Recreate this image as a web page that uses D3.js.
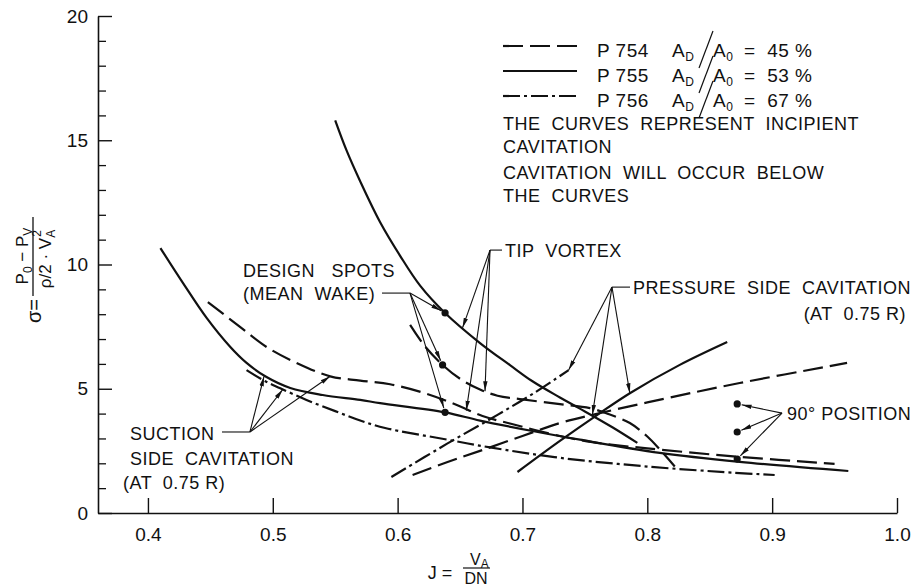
<!DOCTYPE html>
<html>
<head>
<meta charset="utf-8">
<script src="https://cdn.jsdelivr.net/npm/d3@7"></script>
<style>
  body { margin: 0; background: #fff; }
  svg text { font-family: "Liberation Sans", Arial, sans-serif; fill: #111; white-space: pre; }
</style>
</head>
<body>
<svg id="chart" width="913" height="587"></svg>
<script>
// ---- axis ticks ----
const jTicks = [0.4, 0.5, 0.6, 0.7, 0.8, 0.9, 1.0];
const jTickLabels = ["0.4", "0.5", "0.6", "0.7", "0.8", "0.9", "1.0"];
const sigmaMajor = [0, 5, 10, 15, 20];
const sigmaMajorLabels = ["0", "5", "10", "15", "20"];
const sigmaMinor = [1, 2, 3, 4, 6, 7, 8, 9, 11, 12, 13, 14, 16, 17, 18, 19];

// ---- propellers ----
const propellers = ["P 754", "P 755", "P 756"];
const areaRatios = ["45 %", "53 %", "67 %"];

// ---- incipient cavitation curves, [J, sigma] ----
// suction side cavitation (at 0.75 R)
const suction754 = [[0.448,8.49],[0.474,7.48],[0.495,6.68],[0.519,6.04],[0.546,5.5],[0.57,5.33],[0.594,5.18],[0.62,4.85],[0.645,4.4],[0.668,3.9],[0.69,3.6],[0.73,3.1],[0.756,2.85],[0.8,2.6],[0.874,2.26],[0.95,1.98]];
const suction755 = [[0.41,10.66],[0.428,9.26],[0.447,7.85],[0.466,6.68],[0.479,6.04],[0.495,5.47],[0.514,5.03],[0.54,4.75],[0.57,4.55],[0.586,4.42],[0.638,4.05],[0.666,3.72],[0.708,3.3],[0.746,2.95],[0.81,2.42],[0.874,2.06],[0.961,1.69]];
const suction756 = [[0.479,5.75],[0.494,5.3],[0.506,5.02],[0.527,4.55],[0.55,4.1],[0.57,3.72],[0.59,3.42],[0.64,2.95],[0.674,2.64],[0.73,2.22],[0.8,1.87],[0.87,1.62],[0.902,1.53]];
// tip vortex
const tip755 = [[0.55,15.8],[0.559,14.6],[0.57,13.35],[0.586,11.7],[0.602,10.35],[0.618,9.15],[0.638,8.05],[0.666,6.84],[0.69,5.95],[0.708,5.3],[0.73,4.65],[0.746,4.2],[0.772,3.45],[0.792,2.82]];
const tip754 = [[0.61,7.57],[0.622,6.7],[0.636,5.96],[0.65,5.4],[0.666,4.97],[0.68,4.72],[0.7,4.57],[0.73,4.38],[0.754,4.22],[0.77,3.96],[0.786,3.62],[0.8,3.08],[0.81,2.56],[0.822,1.87]];
// pressure side cavitation (at 0.75 R)
const pressure754 = [[0.612,1.53],[0.64,2.05],[0.666,2.5],[0.7,3.1],[0.73,3.62],[0.756,3.95],[0.8,4.45],[0.874,5.23],[0.96,6.04]];
const pressure755 = [[0.696,1.65],[0.73,2.9],[0.76,3.95],[0.786,4.82],[0.826,5.96],[0.864,6.88]];
const pressure756 = [[0.595,1.45],[0.64,2.8],[0.68,3.95],[0.71,4.85],[0.737,5.75]];

// operating points
const designSpots = [[0.638,8.05],[0.636,5.96],[0.638,4.05]];
const position90 = [[0.872,4.39],[0.872,3.26],[0.872,2.17]];

// callouts: leader origin and targets, [J, sigma]
const suctionCallout  = { from: [0.4817,3.26], to: [[0.493,5.5],[0.508,4.97],[0.546,5.5]] };
const designCallout   = { from: [0.6099,8.85], to: designSpots };
const tipCallout      = { from: [0.674,10.58], to: [[0.652,7.45],[0.67,4.9],[0.655,4.12]] };
const pressureCallout = { from: [0.7717,9.09], to: [[0.737,5.75],[0.756,3.95],[0.786,4.82]] };
const posCallout      = { from: [0.9079,4.02], to: position90 };

// ---- drawing ----
const svg = d3.select("#chart");
const x = d3.scaleLinear().domain([0.36, 1.0]).range([98, 897]);
const y = d3.scaleLinear().domain([0, 20]).range([513, 16]);
const ink = "#111";

const dashFor = { "P 754": "20,7", "P 755": null, "P 756": "17,4,3,4" };

const defs = svg.append("defs");
defs.append("marker")
  .attr("id", "arrow")
  .attr("viewBox", "0 -3 10 6")
  .attr("refX", 10).attr("refY", 0)
  .attr("markerWidth", 10).attr("markerHeight", 6)
  .attr("markerUnits", "userSpaceOnUse")
  .attr("orient", "auto")
  .append("path").attr("d", "M0,-2.2L10,0L0,2.2Z").attr("fill", ink);

// y axis: inward ticks
const yAxisMajor = d3.axisLeft(y)
  .tickValues(sigmaMajor)
  .tickFormat((d, i) => sigmaMajorLabels[i])
  .tickSizeInner(-14).tickSizeOuter(0).tickPadding(10);
const gy = svg.append("g").attr("transform", "translate(98,0)").call(yAxisMajor);
gy.select(".domain").attr("stroke", ink).attr("stroke-width", 1.6);
gy.selectAll(".tick line").attr("stroke", ink).attr("stroke-width", 1.4);
gy.selectAll(".tick text").attr("font-size", 19).attr("font-family", "Liberation Sans, Arial, sans-serif").attr("fill", ink);

const yAxisMinor = d3.axisLeft(y).tickValues(sigmaMinor).tickFormat("").tickSizeInner(-8).tickSizeOuter(0);
const gym = svg.append("g").attr("transform", "translate(98,0)").call(yAxisMinor);
gym.select(".domain").remove();
gym.selectAll(".tick line").attr("stroke", ink).attr("stroke-width", 1.3);

// x axis: inward ticks
const xAxis = d3.axisBottom(x)
  .tickValues(jTicks)
  .tickFormat((d, i) => jTickLabels[i])
  .tickSizeInner(-15).tickSizeOuter(0).tickPadding(15);
const gx = svg.append("g").attr("transform", "translate(0,513)").call(xAxis);
gx.select(".domain").attr("stroke", ink).attr("stroke-width", 1.6);
gx.selectAll(".tick line").attr("stroke", ink).attr("stroke-width", 1.4);
gx.selectAll(".tick text").attr("font-size", 19).attr("font-family", "Liberation Sans, Arial, sans-serif").attr("fill", ink);

// curves
const line = d3.line().x(d => x(d[0])).y(d => y(d[1])).curve(d3.curveCatmullRom.alpha(0.5));
const curves = [
  { data: suction754, prop: "P 754" },
  { data: suction755, prop: "P 755" },
  { data: suction756, prop: "P 756" },
  { data: tip755, prop: "P 755" },
  { data: tip754, prop: "P 754" },
  { data: pressure754, prop: "P 754" },
  { data: pressure755, prop: "P 755" },
  { data: pressure756, prop: "P 756" }
];
svg.append("g").selectAll("path").data(curves).join("path")
  .attr("d", d => line(d.data))
  .attr("fill", "none")
  .attr("stroke", ink)
  .attr("stroke-width", 2.2)
  .attr("stroke-dasharray", d => dashFor[d.prop]);

// points
svg.append("g").selectAll("circle").data(designSpots.concat(position90)).join("circle")
  .attr("cx", d => x(d[0])).attr("cy", d => y(d[1])).attr("r", 3.6).attr("fill", ink);

// callout arrows
function callout(c, gap, tailTo) {
  const g = svg.append("g").attr("stroke", ink).attr("stroke-width", 1.1).attr("fill", "none");
  const fx = x(c.from[0]), fy = y(c.from[1]);
  if (tailTo !== undefined) g.append("line").attr("x1", fx).attr("y1", fy).attr("x2", tailTo).attr("y2", fy);
  c.to.forEach(t => {
    const tx = x(t[0]), ty = y(t[1]);
    const len = Math.hypot(tx - fx, ty - fy);
    const k = (len - gap) / len;
    g.append("line")
      .attr("x1", fx).attr("y1", fy)
      .attr("x2", fx + (tx - fx) * k).attr("y2", fy + (ty - fy) * k)
      .attr("marker-end", "url(#arrow)");
  });
}
callout(suctionCallout, 0, 222);
callout(designCallout, 4.5, 382);
callout(tipCallout, 0, 502);
callout(pressureCallout, 0, 630);
callout(posCallout, 4.5);

// text labels
function label(txt, px, py, opts = {}) {
  return svg.append("text")
    .attr("x", px).attr("y", py)
    .attr("font-size", opts.size || 18)
    .attr("letter-spacing", opts.ls !== undefined ? opts.ls : 0.5)
    .attr("text-anchor", opts.anchor || "start")
    .text(txt);
}
label("DESIGN   SPOTS", 243, 277);
label("(MEAN  WAKE)", 243, 300);
label("TIP  VORTEX", 505, 257);
label("PRESSURE  SIDE  CAVITATION", 633, 294);
label("(AT  0.75 R)", 906, 320, { anchor: "end" });
label("SUCTION", 130, 440);
label("SIDE  CAVITATION", 130, 465);
label("(AT  0.75 R)", 123, 489);
label("90° POSITION", 787, 420);

// notes
label("THE  CURVES  REPRESENT  INCIPIENT", 503, 130);
label("CAVITATION", 503, 153);
label("CAVITATION  WILL  OCCUR  BELOW", 503, 179);
label("THE  CURVES", 503, 202);

// legend
propellers.forEach((p, i) => {
  const ly = 46 + 25 * i, by = 57 + 25 * i;
  svg.append("line").attr("x1", 503).attr("x2", 577).attr("y1", ly).attr("y2", ly)
    .attr("stroke", ink).attr("stroke-width", 2.2).attr("stroke-dasharray", dashFor[p]);
  label(p, 597, by, { size: 19 });
  const a1 = label("A", 672, by, { size: 19 });
  a1.append("tspan").attr("font-size", 12).attr("dy", 4).text("D");
  svg.append("line").attr("x1", 713).attr("y1", by - 26).attr("x2", 699).attr("y2", by + 11)
    .attr("stroke", ink).attr("stroke-width", 1.2);
  const a2 = label("A", 713, by, { size: 19 });
  a2.append("tspan").attr("font-size", 12).attr("dy", 4).text("0");
  label("=  " + areaRatios[i], 744, by, { size: 19 });
});

// y axis title: sigma = (p0 - pv) / (rho/2 * VA^2)
const yt = svg.append("g").attr("transform", "translate(33,271) rotate(-90)");
yt.append("text").attr("x", -40).attr("y", 8).attr("text-anchor", "middle").attr("font-size", 20).text("σ=");
yt.append("line").attr("x1", -25).attr("x2", 54).attr("y1", 0).attr("y2", 0).attr("stroke", ink).attr("stroke-width", 1.3);
const num = yt.append("text").attr("x", 15).attr("y", -5).attr("text-anchor", "middle").attr("font-size", 17);
num.append("tspan").text("P");
num.append("tspan").attr("font-size", 12).attr("dy", 4).text("0");
num.append("tspan").attr("dy", -4).text(" − P");
num.append("tspan").attr("font-size", 12).attr("dy", 4).text("V");
const den = yt.append("text").attr("x", 12).attr("y", 18).attr("text-anchor", "middle").attr("font-size", 17);
den.append("tspan").text("ρ/2 · V");
den.append("tspan").attr("font-size", 12).attr("dy", 4).text("A");
den.append("tspan").attr("font-size", 12).attr("dx", -7).attr("dy", -14).text("2");

// x axis title: J = VA / DN
label("J =", 440, 579, { size: 18, anchor: "middle", ls: 0 });
svg.append("line").attr("x1", 463).attr("x2", 490).attr("y1", 568).attr("y2", 568).attr("stroke", ink).attr("stroke-width", 1.2);
const va = label("V", 470, 565, { size: 16, anchor: "start", ls: 0 });
va.append("tspan").attr("font-size", 12).attr("dy", 3).text("A");
label("DN", 476, 584, { size: 16, anchor: "middle", ls: 0 });
</script>
</body>
</html>
